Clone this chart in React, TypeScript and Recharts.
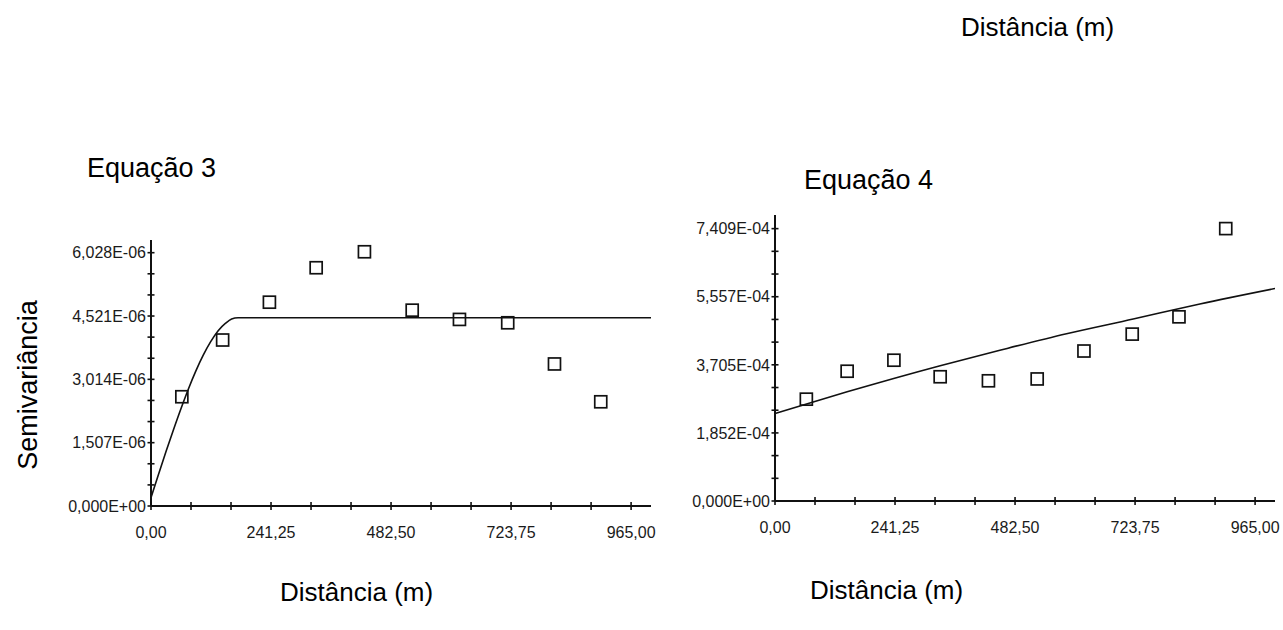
import { ComposedChart, Line, Scatter, XAxis, YAxis } from 'recharts';

// lags (m) and experimental semivariance
const LAGS_EQ3 = [62, 144, 238, 332, 429, 525, 620, 717, 811, 904];
const GAMMA_EQ3 = [2.6e-6, 3.95e-6, 4.85e-6, 5.67e-6, 6.05e-6, 4.66e-6, 4.44e-6, 4.36e-6, 3.38e-6, 2.48e-6];
const LAGS_EQ4 = [63, 145, 239, 332, 429, 527, 621, 718, 812, 906];
const GAMMA_EQ4 = [2.77e-4, 3.53e-4, 3.83e-4, 3.38e-4, 3.27e-4, 3.32e-4, 4.08e-4, 4.54e-4, 5.01e-4, 7.41e-4];

// fitted model curves
const MODEL3_X = [0, 15, 30, 45, 60, 75, 90, 105, 120, 135, 150, 162, 175, 1005];
const MODEL3_Y = [0.2e-6, 0.75e-6, 1.29e-6, 1.81e-6, 2.31e-6, 2.78e-6, 3.21e-6, 3.59e-6, 3.91e-6, 4.17e-6, 4.35e-6, 4.45e-6, 4.48e-6, 4.48e-6];
const MODEL4_X = [0, 145, 332, 452, 586, 720, 854, 1005];
const MODEL4_Y = [2.38e-4, 2.97e-4, 3.68e-4, 4.1e-4, 4.55e-4, 4.95e-4, 5.36e-4, 5.78e-4];

// axis ticks (minor + labelled)
const X_TICKS = [0, 80.42, 160.83, 241.25, 321.67, 402.08, 482.5, 562.92, 643.33, 723.75, 804.17, 884.58, 965];
const X_LABELS = [0, 241.25, 482.5, 723.75, 965];
const Y3_TICKS = [0, 0.502e-6, 1.005e-6, 1.507e-6, 2.009e-6, 2.512e-6, 3.014e-6, 3.516e-6, 4.019e-6, 4.521e-6, 5.023e-6, 5.526e-6, 6.028e-6];
const Y3_LABELS = [0, 1.507e-6, 3.014e-6, 4.521e-6, 6.028e-6];
const Y4_TICKS = [0, 0.617e-4, 1.235e-4, 1.852e-4, 2.47e-4, 3.087e-4, 3.705e-4, 4.322e-4, 4.939e-4, 5.557e-4, 6.174e-4, 6.792e-4, 7.409e-4];
const Y4_LABELS = [0, 1.852e-4, 3.705e-4, 5.557e-4, 7.409e-4];

const FONT = '"Liberation Sans", Arial, sans-serif';
const INK = '#111';

const zip = (xs: number[], ys: number[]) => xs.map((x, i) => ({ x, y: ys[i] }));

const isLabel = (v: number, labels: number[]) => labels.some((l) => Math.abs(l - v) <= Math.abs(l) * 1e-3 + 1e-12);

function fmtSci(v: number) {
    const [m, e] = v.toExponential(3).split('e');
    const n = parseInt(e, 10);
    return `${m.replace('.', ',')}E${n < 0 ? '-' : '+'}${String(Math.abs(n)).padStart(2, '0')}`;
}

const fmtDist = (v: number) => v.toFixed(2).replace('.', ',');

function YTick(props: any) {
    const { x, y, payload, labels } = props;
    const ax = x + 6;
    return (
        <g>
            <line x1={ax - 3.5} x2={ax + 3.5} y1={y} y2={y} stroke={INK} strokeWidth={1.6} />
            {isLabel(payload.value, labels) && (
                <text x={ax - 5} y={y} dy="0.36em" textAnchor="end" fontSize={16} fontFamily={FONT} fill="#1a1a1a">
                    {fmtSci(payload.value)}
                </text>
            )}
        </g>
    );
}

function XTick(props: any) {
    const { x, y, payload } = props;
    const ay = y - 6;
    return (
        <g>
            <line x1={x} x2={x} y1={ay - 4} y2={ay + 4} stroke={INK} strokeWidth={1.6} />
            {isLabel(payload.value, X_LABELS) && (
                <text x={x} y={ay + 32} textAnchor="middle" fontSize={16} fontFamily={FONT} fill="#1a1a1a">
                    {fmtDist(payload.value)}
                </text>
            )}
        </g>
    );
}

function Square(props: any) {
    const { cx, cy } = props;
    return <rect x={cx - 6} y={cy - 6} width={12} height={12} fill="none" stroke={INK} strokeWidth={1.7} />;
}

type PanelProps = {
    left: number;
    width: number;
    axisWidth: number;
    top: number;
    plotHeight: number;
    points: { x: number; y: number }[];
    model: { x: number; y: number }[];
    yMax: number;
    yTicks: number[];
    yLabels: number[];
};

function Panel({ left, width, axisWidth, top, plotHeight, points, model, yMax, yTicks, yLabels }: PanelProps) {
    const bottom = 630 - top - plotHeight - 40;
    return (
        <div style={{ position: 'absolute', left, top: 0 }}>
            <ComposedChart
                width={width}
                height={630}
                margin={{ top, right: width - axisWidth - 500, bottom, left: 0 }}
            >
                <XAxis
                    type="number"
                    dataKey="x"
                    domain={[0, 1005]}
                    allowDataOverflow
                    ticks={X_TICKS}
                    interval={0}
                    height={40}
                    tickLine={false}
                    tickSize={0}
                    tickMargin={6}
                    axisLine={{ stroke: INK, strokeWidth: 2 }}
                    tick={(p: any) => <XTick {...p} />}
                />
                <YAxis
                    type="number"
                    dataKey="y"
                    domain={[0, yMax]}
                    allowDataOverflow
                    ticks={yTicks}
                    interval={0}
                    width={axisWidth}
                    tickLine={false}
                    tickSize={0}
                    tickMargin={6}
                    axisLine={{ stroke: INK, strokeWidth: 2 }}
                    tick={(p: any) => <YTick {...p} labels={yLabels} />}
                />
                <Line
                    data={model}
                    dataKey="y"
                    type="monotone"
                    stroke={INK}
                    strokeWidth={1.6}
                    dot={false}
                    activeDot={false}
                    isAnimationActive={false}
                />
                <Scatter data={points} dataKey="y" shape={Square} isAnimationActive={false} />
            </ComposedChart>
        </div>
    );
}

export default function App() {
    return (
        <div style={{ position: 'absolute', left: 0, top: 0, width: 1283, height: 630, background: '#fff', overflow: 'hidden' }}>
            <Panel
                left={0}
                width={700}
                axisWidth={151}
                top={240}
                plotHeight={266}
                points={zip(LAGS_EQ3, GAMMA_EQ3)}
                model={zip(MODEL3_X, MODEL3_Y)}
                yMax={6.33e-6}
                yTicks={Y3_TICKS}
                yLabels={Y3_LABELS}
            />
            <Panel
                left={620}
                width={663}
                axisWidth={155}
                top={215}
                plotHeight={286}
                points={zip(LAGS_EQ4, GAMMA_EQ4)}
                model={zip(MODEL4_X, MODEL4_Y)}
                yMax={7.78e-4}
                yTicks={Y4_TICKS}
                yLabels={Y4_LABELS}
            />
            <svg width={1283} height={630} style={{ position: 'absolute', left: 0, top: 0, pointerEvents: 'none' }}>
                <g fontFamily={FONT} fontSize={26} fill="#000">
                    <text x={961} y={36}>Distância (m)</text>
                    <text x={87} y={177} fontSize={27}>Equação 3</text>
                    <text x={804} y={189} fontSize={27}>Equação 4</text>
                    <text x={280} y={601}>Distância (m)</text>
                    <text x={810} y={599}>Distância (m)</text>
                    <text transform="translate(37,385) rotate(-90)" textAnchor="middle" fontSize={27}>
                        Semivariância
                    </text>
                </g>
            </svg>
        </div>
    );
}
